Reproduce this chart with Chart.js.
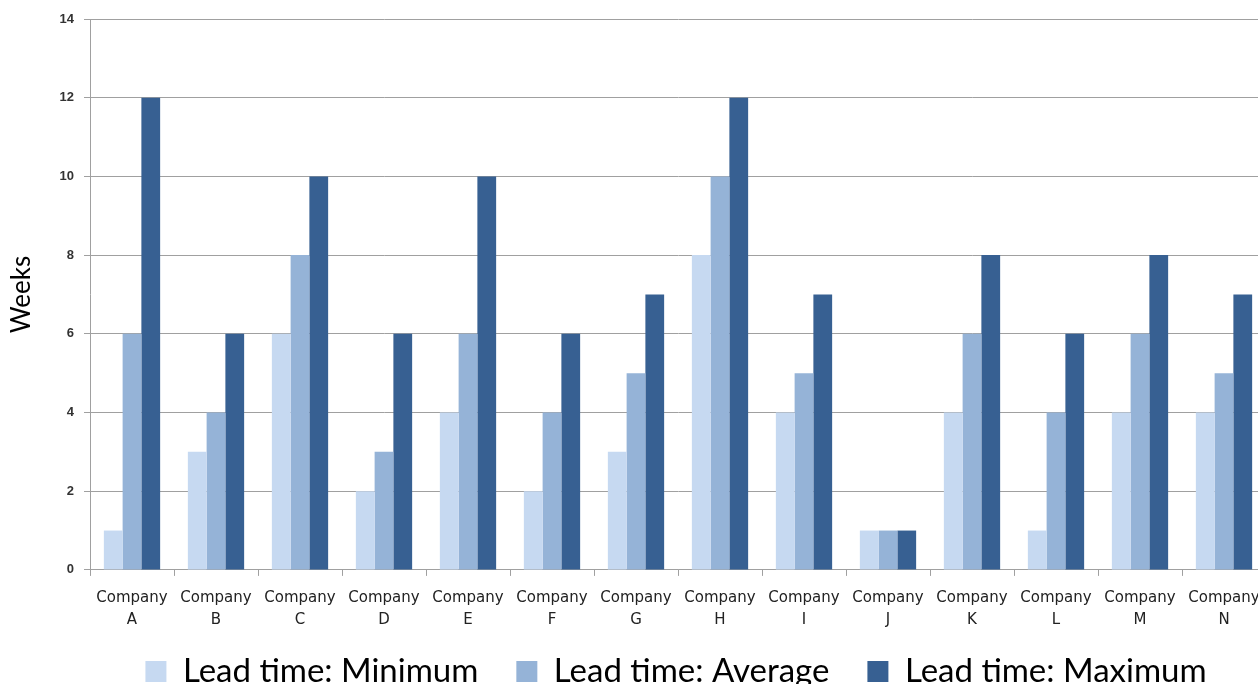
<!DOCTYPE html>
<html>
<head>
<meta charset="utf-8">
<script src="https://cdn.jsdelivr.net/npm/chart.js@4.4.0/dist/chart.umd.min.js"></script>
<style>
  html, body { margin: 0; padding: 0; background: #fff; overflow: hidden; }
  #wrap { width: 1275px; height: 723px; position: relative; }
</style>
</head>
<body>
<div id="wrap"><canvas id="chart"></canvas></div>
<script>
const companies = ["A", "B", "C", "D", "E", "F", "G", "H", "I", "J", "K", "L", "M", "N"];
const leadMin = [1, 3, 6, 2, 4, 2, 3, 8, 4, 1, 4, 1, 4, 4];
const leadAvg = [6, 4, 8, 3, 6, 4, 5, 10, 5, 1, 6, 4, 6, 5];
const leadMax = [12, 6, 10, 6, 10, 6, 7, 12, 7, 1, 8, 6, 8, 7];
const seriesNames = ["Lead time: Minimum", "Lead time: Average", "Lead time: Maximum"];

const labels = companies.map(c => ["Company", c]);

// move the legend row a bit (right and up), like the original cropped chart
const legendShift = {
    id: "legendShift",
    afterLayout(chart) {
        const lg = chart.legend;
        lg.left += 43;
        lg.right += 43;
        lg.top -= 25;
        lg.bottom -= 25;
    }
};

const ctx = document.getElementById("chart").getContext("2d");
const chart = new Chart(ctx, {
    type: "bar",
    data: {
        labels: labels,
        datasets: [
            { label: seriesNames[0], data: leadMin, backgroundColor: "#c6d9f1" },
            { label: seriesNames[1], data: leadAvg, backgroundColor: "#95b3d7" },
            { label: seriesNames[2], data: leadMax, backgroundColor: "#376092" }
        ]
    },
    plugins: [legendShift],
    options: {
        responsive: true,
        maintainAspectRatio: false,
        animation: false,
        layout: { padding: { top: 19, right: 9, left: 0, bottom: 0 } },
        datasets: {
            bar: { barPercentage: 1, categoryPercentage: 0.67 }
        },
        plugins: {
            tooltip: { enabled: false },
            legend: {
                position: "bottom",
                labels: {
                    font: { family: "Lato", size: 33 },
                    color: "#000",
                    boxWidth: 21,
                    boxHeight: 21,
                    padding: 38
                }
            }
        },
        scales: {
            x: {
                grid: { drawOnChartArea: false, offset: true, tickLength: 6, color: "#a0a0a0" },
                border: { color: "#a0a0a0" },
                ticks: {
                    font: { family: "DejaVu Sans", size: 15, lineHeight: 1.47 },
                    color: "#222",
                    maxRotation: 0,
                    autoSkip: false,
                    padding: 11
                }
            },
            y: {
                min: 0,
                max: 14,
                ticks: {
                    stepSize: 2,
                    font: { family: "Liberation Sans", size: 13, weight: "bold" },
                    color: "#333",
                    padding: 10
                },
                grid: { color: "#a0a0a0", tickLength: 6 },
                border: { color: "#a0a0a0" },
                title: {
                    display: true,
                    text: "Weeks",
                    font: { family: "Lato", size: 26 },
                    color: "#000",
                    padding: { top: 6, bottom: 0 }
                },
                afterFit: s => { s.width = 90; }
            }
        }
    }
});
</script>
</body>
</html>
